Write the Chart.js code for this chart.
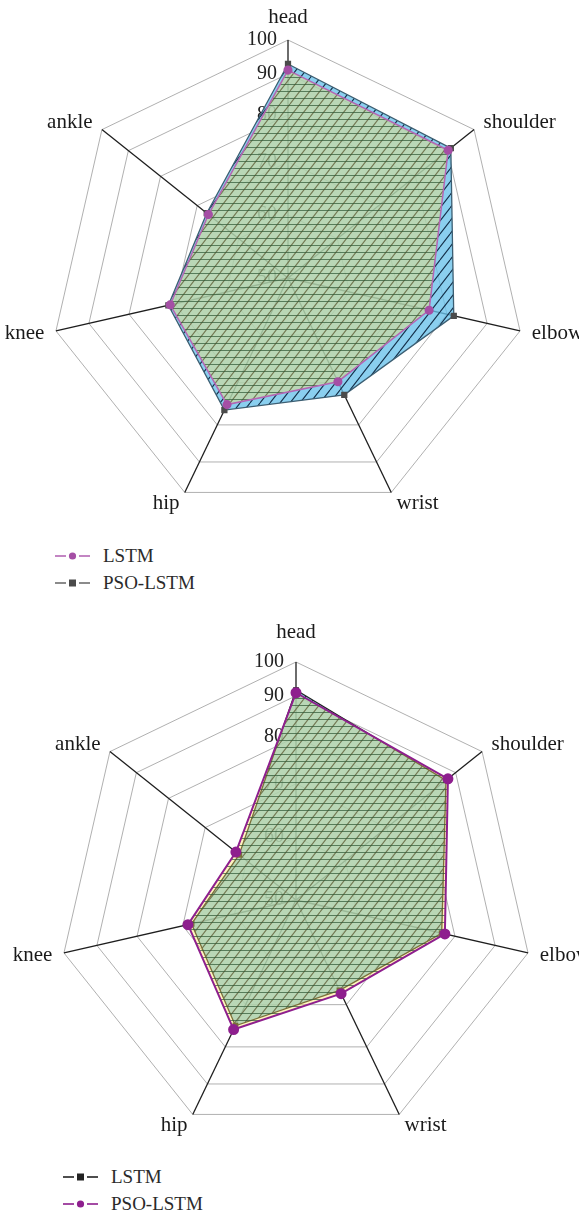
<!DOCTYPE html>
<html>
<head>
<meta charset="utf-8">
<script src="https://cdn.jsdelivr.net/npm/chart.js@4.4.1/dist/chart.umd.min.js"></script>
<style>
  html, body { margin: 0; padding: 0; background: #fff; }
  body { width: 579px; height: 1217px; position: relative; overflow: hidden;
         font-family: "Liberation Serif", "Times New Roman", serif; }
  canvas { position: absolute; left: 0; }
  .legend { position: absolute; font-size: 19px; color: #2a2a2a; }
  .legend .item { height: 26.6px; display: flex; align-items: center; }
  .legend svg { display: block; }
</style>
</head>
<body>
<canvas id="upper" width="579" height="540" style="top:0"></canvas>
<div class="legend" id="upperLegend" style="left:55px; top:543px"></div>
<canvas id="lower" width="579" height="560" style="top:600px"></canvas>
<div class="legend" id="lowerLegend" style="left:63px; top:1164px"></div>

<script>
// Joint names around the radar (clockwise from the top)
const joints = ['head', 'shoulder', 'elbow', 'wrist', 'hip', 'knee', 'ankle'];
// Radial tick labels
const scaleTicks = [50, 60, 70, 80, 90, 100];

// Upper radar: recognition accuracy per joint (%)
const upperLSTM = [91.1, 90.2, 76.1, 69.8, 75.2, 71.0, 67.3];
const upperPSO  = [92.9, 91.2, 81.7, 72.9, 76.5, 71.4, 67.7];

// Lower radar: recognition accuracy per joint (%)
const lowerLSTM = [91.7, 87.0, 77.1, 67.0, 75.0, 68.3, 61.8];
const lowerPSO  = [90.9, 87.6, 77.8, 67.7, 75.9, 69.0, 62.6];

// Radial scale whose rings are spaced unevenly (outer rings closer together)
const ringSpacing = [0, 0.265, 0.488, 0.685, 0.858, 1];

class RingScale extends Chart.RadialLinearScale {
  static id = 'ringRadial';
  getDistanceFromCenterForValue(value) {
    if (value === null || value === undefined || isNaN(value)) return NaN;
    const v = scaleTicks;
    let f;
    if (value <= v[0]) f = 0;
    else if (value >= v[v.length - 1]) f = 1;
    else {
      let k = 0;
      while (value > v[k + 1]) k++;
      const t = (value - v[k]) / (v[k + 1] - v[k]);
      f = ringSpacing[k] + t * (ringSpacing[k + 1] - ringSpacing[k]);
    }
    return this.drawingArea * f;
  }
}
Chart.register(RingScale);

// Fill patterns: blue with diagonal hatching, translucent yellow with horizontal hatching
function diagonalHatch(ctx) {
  const c = document.createElement('canvas');
  c.width = 10; c.height = 13;
  const x = c.getContext('2d');
  x.fillStyle = 'rgba(105,193,234,0.78)';
  x.fillRect(0, 0, 10, 13);
  x.strokeStyle = 'rgba(15,40,65,0.95)';
  x.lineWidth = 1.1;
  x.beginPath();
  x.moveTo(0, 13); x.lineTo(10, 0);
  x.moveTo(-10, 13); x.lineTo(0, 0);
  x.moveTo(10, 13); x.lineTo(20, 0);
  x.stroke();
  return ctx.createPattern(c, 'repeat');
}
function horizontalHatch(ctx) {
  const c = document.createElement('canvas');
  c.width = 8; c.height = 7;
  const x = c.getContext('2d');
  x.fillStyle = 'rgba(255,227,95,0.4)';
  x.fillRect(0, 0, 8, 7);
  x.fillStyle = 'rgba(50,90,55,0.72)';
  x.fillRect(0, 0, 8, 1);
  return ctx.createPattern(c, 'repeat');
}

// Draws the radial tick numbers (under the fills) and the joint names
const axisText = {
  id: 'axisText',
  beforeDatasetsDraw(chart, _args, opts) {
    const s = chart.scales.r, ctx = chart.ctx;
    ctx.save();
    ctx.font = '20px "Liberation Serif"';
    ctx.fillStyle = '#222';
    ctx.textAlign = 'right';
    ctx.textBaseline = 'middle';
    s.ticks.forEach(t => {
      const d = s.getDistanceFromCenterForValue(t.value);
      ctx.fillText(t.label, s.xCenter - opts.tickGap, s.yCenter - d);
    });
    ctx.restore();
  },
  afterDatasetsDraw(chart, _args, opts) {
    const s = chart.scales.r, ctx = chart.ctx;
    ctx.save();
    ctx.font = '21px "Liberation Serif"';
    ctx.fillStyle = '#1a1a1a';
    chart.data.labels.forEach((name, i) => {
      const p = s.getPointPosition(i, s.drawingArea + 12);
      if (Math.abs(p.x - s.xCenter) < 1) {
        ctx.textAlign = 'center';
        ctx.textBaseline = 'alphabetic';
        ctx.fillText(name, s.xCenter, s.yCenter - s.drawingArea - opts.headGap);
      } else {
        ctx.textAlign = p.x > s.xCenter ? 'left' : 'right';
        ctx.textBaseline = 'middle';
        ctx.fillText(name, p.x, p.y);
      }
    });
    ctx.restore();
  }
};

function radar(canvasId, datasets, padding, headGap, tickGap) {
  return new Chart(document.getElementById(canvasId), {
    type: 'radar',
    data: { labels: joints, datasets },
    plugins: [axisText],
    options: {
      responsive: false,
      animation: false,
      layout: { padding },
      elements: { line: { tension: 0 } },
      plugins: {
        legend: { display: false },
        tooltip: { enabled: false },
        axisText: { headGap, tickGap }
      },
      scales: {
        r: {
          type: 'ringRadial',
          min: scaleTicks[0],
          max: scaleTicks[scaleTicks.length - 1],
          afterBuildTicks: s => { s.ticks = scaleTicks.map(v => ({ value: v })); },
          ticks: { display: false },
          pointLabels: { display: false },
          grid: { color: '#9c9c9c', lineWidth: 0.8 },
          angleLines: { color: '#1e1e1e', lineWidth: 1.3 }
        }
      }
    }
  });
}

const upperCtx = document.getElementById('upper').getContext('2d');
const lowerCtx = document.getElementById('lower').getContext('2d');

const upperSets = [
  { label: 'LSTM', data: upperLSTM, order: 1, fill: true,
    backgroundColor: horizontalHatch(upperCtx),
    borderColor: '#b466b4', borderWidth: 1.5,
    pointStyle: 'circle', pointRadius: 3.8,
    pointBackgroundColor: '#a54fa5', pointBorderColor: '#a54fa5' },
  { label: 'PSO-LSTM', data: upperPSO, order: 2, fill: true,
    backgroundColor: diagonalHatch(upperCtx),
    borderColor: '#3c5e72', borderWidth: 1.3,
    pointStyle: 'rect', pointRadius: 3.5,
    pointBackgroundColor: '#4b4b4b', pointBorderColor: '#4b4b4b' }
];
const lowerSets = [
  { label: 'LSTM', data: lowerLSTM, order: 2, fill: true,
    backgroundColor: diagonalHatch(lowerCtx),
    borderColor: '#222', borderWidth: 1.3,
    pointStyle: 'rect', pointRadius: 3.2,
    pointBackgroundColor: '#222', pointBorderColor: '#222' },
  { label: 'PSO-LSTM', data: lowerPSO, order: 1, fill: true,
    backgroundColor: horizontalHatch(lowerCtx),
    borderColor: '#8e1f8e', borderWidth: 2,
    pointStyle: 'circle', pointRadius: 4.5,
    pointBackgroundColor: '#8e1f8e', pointBorderColor: '#8e1f8e' }
];

radar('upper', upperSets, { left: 50, right: 53, top: 40, bottom: 24 }, 17, 11);
radar('lower', lowerSets, { left: 58, right: 45, top: 62, bottom: 22 }, 24, 12);

// Legends: line–marker–line swatch followed by the series name
function legend(id, sets, lineColors) {
  const box = document.getElementById(id);
  sets.forEach((d, i) => {
    const col = lineColors[i];
    const mark = d.pointStyle === 'rect'
      ? `<rect x="14" y="2.5" width="7" height="7" fill="${d.pointBackgroundColor}"/>`
      : `<circle cx="17.5" cy="6" r="3.6" fill="${d.pointBackgroundColor}"/>`;
    const item = document.createElement('div');
    item.className = 'item';
    item.innerHTML =
      `<svg width="35" height="12"><line x1="0" y1="6" x2="11" y2="6" stroke="${col}" stroke-width="1.6"/>` +
      `<line x1="24" y1="6" x2="35" y2="6" stroke="${col}" stroke-width="1.6"/>${mark}</svg>` +
      `<span style="margin-left:13px">${d.label}</span>`;
    box.appendChild(item);
  });
}
legend('upperLegend', upperSets, ['#b466b4', '#6f6f6f']);
legend('lowerLegend', lowerSets, ['#222', '#8e1f8e']);
</script>
</body>
</html>
